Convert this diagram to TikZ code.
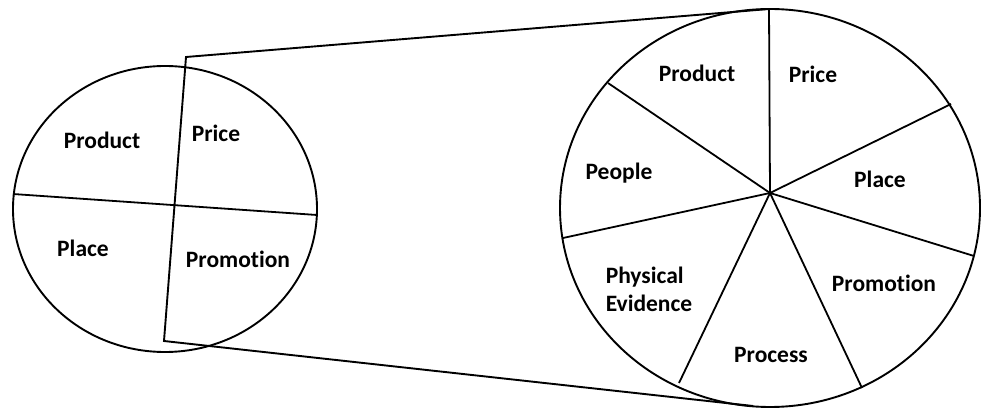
\documentclass[tikz,border=0pt]{standalone}
\usepackage{fontspec}
\setmainfont{Carlito}[Ligatures=NoCommon]
\usetikzlibrary{positioning}

\tikzstyle{outline} = [draw,line width=1.9pt]
\tikzstyle{spoke} = [draw,line width=1.8pt,-]
\tikzstyle{label} = [font=\fontsize{23.5}{28}\selectfont\bfseries,align=left,inner sep=0pt]

\begin{document}
\begin{tikzpicture}[x=1pt,y=-1pt]
      \useasboundingbox (0,0) rectangle (984,411);
      %small pie: 4P
      \coordinate (sc) at (165,209);
      \draw[outline] (sc) ellipse [x radius=152, y radius=143];
      \coordinate (sw) at (13,194);
      \coordinate (se) at (317,215);
      \path (sw) edge[spoke] (se);
      %big pie: 7P
      \coordinate (bc) at (770,208);
      \coordinate (hub) at (770,193);
      \draw[outline] (bc) ellipse [x radius=210, y radius=199];
      \foreach \rimname/\x/\y in {
        r1/769/9, r2/951/104, r3/974/256, r4/862/388,
        r5/679/383, r6/563/238, r7/608/83}
      {
        \coordinate (\rimname) at (\x,\y);
        \path (hub) edge[spoke] (\rimname);
      };
      %zoom lines
      \coordinate (tl) at (186,57);
      \coordinate (bl) at (164,341);
      \coordinate (br) at (753,406);
      \draw[outline,line join=miter] (r1) -- (tl) -- (bl) -- (br);
      %labels
      \foreach \labelname/\x/\y/\text in {
        sprod/102/140/Product, sprice/216/133/Price,
        splace/83/248/Place, sprom/238/259/Promotion,
        bprod/697/73/Product, bprice/813/74/Price,
        bpeople/619/173/People, bplace/880/179/Place,
        bphys/649/289/{Physical\\Evidence}, bprom/884/283/Promotion,
        bproc/771/355/Process}
      {
        \node[label] (\labelname) at (\x,\y) {\text};
      };
    \end{tikzpicture}
\end{document}
